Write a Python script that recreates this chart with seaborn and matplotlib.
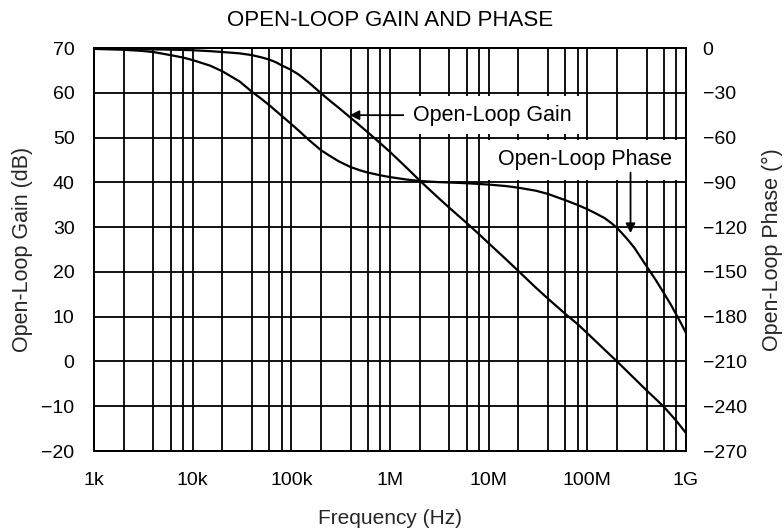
import numpy as np
import pandas as pd
import matplotlib
matplotlib.use("Agg")
import matplotlib.pyplot as plt
from matplotlib.ticker import FixedLocator, NullFormatter
import seaborn as sns

# ---- data ----
gain_freq = [1e3, 2e3, 4e3, 7e3, 1e4, 1.5e4, 2e4, 3e4, 4e4, 5e4, 6e4, 7e4, 8e4, 1e5, 1.2e5,
             1.5e5, 2e5, 2.5e5, 3e5, 4e5, 5e5, 6e5, 8e5, 1e6, 1.5e6, 2e6, 3e6, 4e6, 6e6, 8e6,
             1e7, 1.5e7, 2e7, 3e7, 4e7, 6e7, 8e7, 1e8, 1.5e8, 2e8, 3e8, 4e8, 5e8, 6e8, 8e8, 1e9]
gain_db = [69.8, 69.8, 69.7, 69.6, 69.5, 69.3, 69.1, 68.8, 68.4, 67.9, 67.4, 66.8, 66.1, 65.1, 64.0,
           62.3, 59.9, 58.1, 56.7, 54.4, 52.6, 51.1, 48.7, 46.8, 43.1, 40.4, 36.8, 34.3, 30.9, 28.4,
           26.4, 22.8, 20.2, 16.5, 14.0, 10.6, 8.3, 6.3, 2.6, 0.0, -3.8, -6.5, -8.5, -10.2, -13.3, -16.0]

phase_freq = [1e3, 2e3, 3e3, 4e3, 6e3, 8e3, 1e4, 1.5e4, 2e4, 3e4, 4e4, 5e4, 6e4, 8e4, 1e5, 1.2e5,
              1.5e5, 2e5, 2.5e5, 3e5, 4e5, 5e5, 6e5, 8e5, 1e6, 1.5e6, 2e6, 3e6, 6e6, 1e7, 1.5e7,
              2e7, 3e7, 4e7, 6e7, 8e7, 1e8, 1.2e8, 1.5e8, 1.75e8, 2e8, 2.5e8, 3e8, 4e8, 5e8, 6e8,
              7e8, 8e8, 9e8, 1e9]
phase_deg = [-0.6, -1.2, -1.9, -2.7, -4.8, -6.4, -8.1, -11.8, -15.6, -22.5, -29.4, -34.2, -38.4,
             -45.5, -51.0, -55.6, -61.5, -68.5, -72.6, -75.8, -79.8, -82.0, -83.5, -85.3, -86.5,
             -88.2, -89.1, -89.8, -90.6, -91.5, -92.5, -93.6, -95.6, -97.8, -102.0, -105.2, -108.0,
             -110.6, -114.0, -117.3, -120.5, -127.5, -133.9, -146.4, -156.0, -164.5, -171.8, -178.8,
             -185.0, -191.0]

x_ticks = [1e3, 1e4, 1e5, 1e6, 1e7, 1e8, 1e9]
x_ticklabels = ["1k", "10k", "100k", "1M", "10M", "100M", "1G"]
x_minor = [m * 10.0 ** e for e in range(3, 9) for m in (2, 4, 6, 8)]
gain_ticks = list(range(-20, 71, 10))
phase_ticks = list(range(-270, 1, 30))

gain_df = pd.DataFrame({"Frequency": gain_freq, "Gain": gain_db})
phase_df = pd.DataFrame({"Frequency": phase_freq, "Phase": phase_deg})

# ---- style ----
sns.set_theme(style="white")
plt.rcParams["font.family"] = ["Liberation Sans", "DejaVu Sans"]
plt.rcParams["text.color"] = "black"

W, H = 784, 529
fig = plt.figure(figsize=(W / 100, H / 100), dpi=100)
ax = fig.add_axes([94 / W, 1 - 451 / H, 592 / W, 403 / H])
ax2 = ax.twinx()

sns.lineplot(data=gain_df, x="Frequency", y="Gain", ax=ax, color="black", lw=1.6, zorder=3)
sns.lineplot(data=phase_df, x="Frequency", y="Phase", ax=ax2, color="black", lw=1.6, zorder=3)

ax.set_xscale("log")
ax.set_xlim(1e3, 1e9)
ax.set_ylim(-20, 70)
ax2.set_ylim(-270, 0)

ax.xaxis.set_major_locator(FixedLocator(x_ticks))
ax.set_xticklabels(x_ticklabels)
ax.xaxis.set_minor_locator(FixedLocator(x_minor))
ax.xaxis.set_minor_formatter(NullFormatter())
ax.set_yticks(gain_ticks)
ax2.set_yticks(phase_ticks)
ax2.set_yticklabels([str(t).replace("-", "\u2212") for t in phase_ticks])
ax.set_yticklabels([str(t).replace("-", "\u2212") for t in gain_ticks])

ax.grid(True, which="both", axis="x", color="black", lw=1.3)
ax.grid(True, which="major", axis="y", color="black", lw=1.3)
ax2.grid(False)

ax.tick_params(axis="x", which="both", length=0, pad=15, labelsize=14, colors="black")
ax.tick_params(axis="y", length=0, pad=14, labelsize=14, colors="black")
ax2.tick_params(axis="y", length=0, pad=12, labelsize=14, colors="black")

for a in (ax, ax2):
    for s in a.spines.values():
        s.set_color("black")
        s.set_linewidth(1.4)

ax.set_xlabel("Frequency (Hz)", fontsize=15, va="center")
ax.xaxis.set_label_coords(0.5, (451 - 519) / 403)
ax.set_ylabel("Open-Loop Gain (dB)", fontsize=15.5, va="center")
ax.yaxis.set_label_coords((23 - 94) / 592, 0.5)
ax2.set_ylabel("Open-Loop Phase (\u00b0)", fontsize=15.5, va="center", rotation=90)
ax2.yaxis.set_label_coords((772 - 94) / 592, 0.5)

fig.text(390 / W, 1 - 20.5 / H, "OPEN-LOOP GAIN AND PHASE", ha="center", va="center", fontsize=16)

box = dict(boxstyle="square,pad=0.4", fc="white", ec="none")
ax.annotate("Open-Loop Gain", xy=(3.9e5, 55), xytext=(1.7e6, 55), ha="left", va="center",
            fontsize=15.5, bbox=box, zorder=5,
            arrowprops=dict(arrowstyle="-|>", color="black", lw=1.3, mutation_scale=14,
                            shrinkA=0, shrinkB=0))
ax2.text(1.24e7, -75, "Open-Loop Phase", ha="left", va="center", fontsize=15.5,
         bbox=dict(boxstyle="square,pad=0.45", fc="white", ec="none"), zorder=5)
ax2.annotate("", xy=(2.74e8, -124), xytext=(2.74e8, -83.5),
             arrowprops=dict(arrowstyle="-|>", color="black", lw=1.3, mutation_scale=14,
                             shrinkA=0, shrinkB=0), zorder=5)

fig.savefig("out.png", dpi=100)
